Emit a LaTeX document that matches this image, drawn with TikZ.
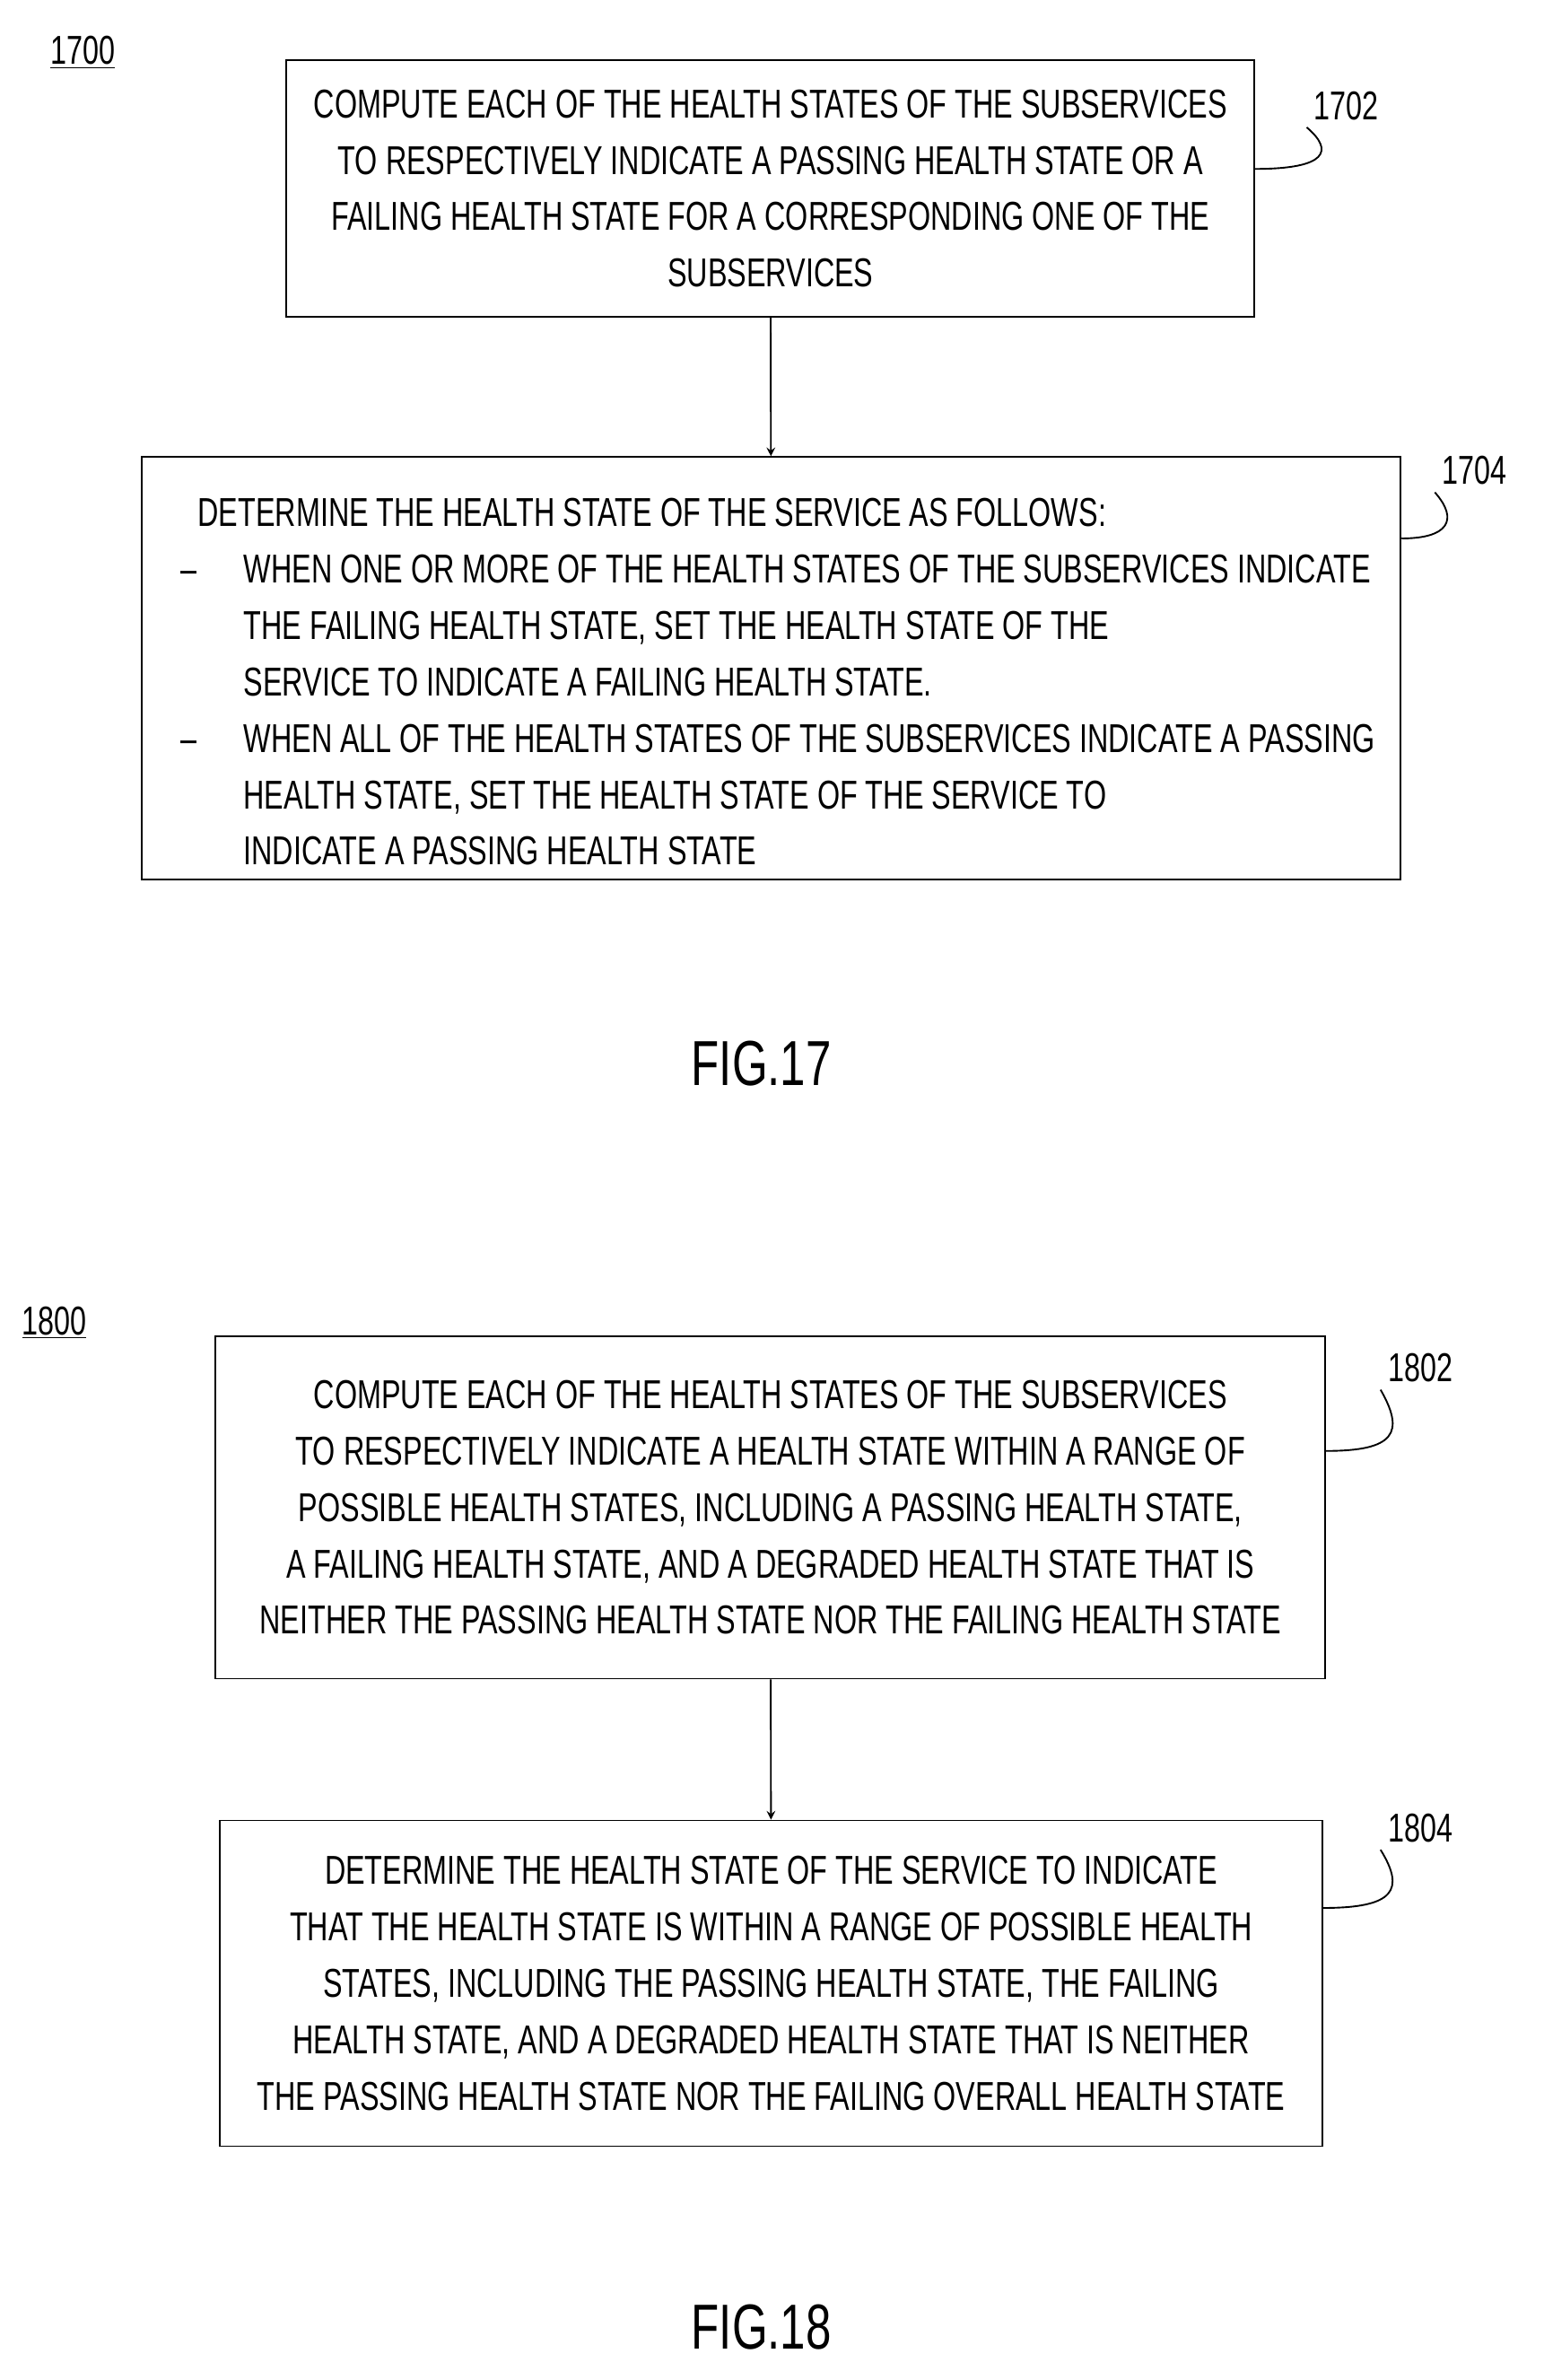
\documentclass[tikz,border=0pt]{standalone}
\usepackage{fontspec}
\setmainfont{Liberation Sans}[FakeStretch=0.72]
\usetikzlibrary{positioning}
\tikzset{
  stepbox/.style={draw,thick,inner sep=0pt},
  txt/.style={font=\fontsize{19}{26.6}\selectfont,align=center},
  ref/.style={font=\fontsize{19}{22}\selectfont},
  lead/.style={thick},
  conn/.style={thick,->,>=stealth}
}
\begin{document}
\begin{tikzpicture}[x=0.025cm,y=-0.025cm]
  \useasboundingbox (0,0) rectangle (1024,1578);

  % figure 17
  \node[ref] (f17) at (55,35) {\underline{1700}};
  \node[stepbox,minimum width=642*0.025cm,minimum height=170*0.025cm] (b1702) at (511,125) {};
  \node[txt] at (b1702) {COMPUTE EACH OF THE HEALTH STATES OF THE SUBSERVICES\\TO RESPECTIVELY INDICATE A PASSING HEALTH STATE OR A\\FAILING HEALTH STATE FOR A CORRESPONDING ONE OF THE\\SUBSERVICES};
  \node[ref] (l1702) at (893,70) {1702};
  \draw[lead] (b1702.east |- 0,112) .. controls (880,112) and (885,100) .. (l1702.south west);

  \node[stepbox,minimum width=835*0.025cm,minimum height=280*0.025cm] (b1704) at (511.5,443) {};
  \node[txt,align=left,anchor=north west] at (115,318) {%
    \begin{tabular}{@{}l@{\hspace{22pt}}l@{}}
    \multicolumn{2}{@{\hspace{8pt}}l}{DETERMINE THE HEALTH STATE OF THE SERVICE AS FOLLOWS:}\\
    -- & WHEN ONE OR MORE OF THE HEALTH STATES OF THE SUBSERVICES INDICATE\\
       & THE FAILING HEALTH STATE, SET THE HEALTH STATE OF THE\\
       & SERVICE TO INDICATE A FAILING HEALTH STATE.\\
    -- & WHEN ALL OF THE HEALTH STATES OF THE SUBSERVICES INDICATE A PASSING\\
       & HEALTH STATE, SET THE HEALTH STATE OF THE SERVICE TO\\
       & INDICATE A PASSING HEALTH STATE
    \end{tabular}};
  \node[ref] (l1704) at (978,312) {1704};
  \draw[lead] (b1704.east |- 0,357) .. controls (960,357) and (968,345) .. (l1704.south west);

  \draw[conn] (b1702) -- (b1704);
  \node[font=\fontsize{30}{34}\selectfont] (fig17) at (505,705) {FIG.17};

  % figure 18
  \node[ref] (f18) at (36,877) {\underline{1800}};
  \node[stepbox,minimum width=736*0.025cm,minimum height=227*0.025cm] (b1802) at (511,999.5) {};
  \node[txt] at (b1802) {COMPUTE EACH OF THE HEALTH STATES OF THE SUBSERVICES\\TO RESPECTIVELY INDICATE A HEALTH STATE WITHIN A RANGE OF\\POSSIBLE HEALTH STATES, INCLUDING A PASSING HEALTH STATE,\\A FAILING HEALTH STATE, AND A DEGRADED HEALTH STATE THAT IS\\NEITHER THE PASSING HEALTH STATE NOR THE FAILING HEALTH STATE};
  \node[ref] (l1802) at (942,907) {1802};
  \draw[lead] (b1802.east |- 0,962) .. controls (925,962) and (932,950) .. (l1802.south west);

  \node[stepbox,minimum width=731*0.025cm,minimum height=216*0.025cm] (b1804) at (511.5,1315) {};
  \node[txt] at (b1804) {DETERMINE THE HEALTH STATE OF THE SERVICE TO INDICATE\\THAT THE HEALTH STATE IS WITHIN A RANGE OF POSSIBLE HEALTH\\STATES, INCLUDING THE PASSING HEALTH STATE, THE FAILING\\HEALTH STATE, AND A DEGRADED HEALTH STATE THAT IS NEITHER\\THE PASSING HEALTH STATE NOR THE FAILING OVERALL HEALTH STATE};
  \node[ref] (l1804) at (942,1212) {1804};
  \draw[lead] (b1804.east |- 0,1265) .. controls (925,1265) and (932,1253) .. (l1804.south west);

  \draw[conn] (b1802) -- (b1804);
  \node[font=\fontsize{30}{34}\selectfont] (fig18) at (505,1543) {FIG.18};
\end{tikzpicture}
\end{document}
